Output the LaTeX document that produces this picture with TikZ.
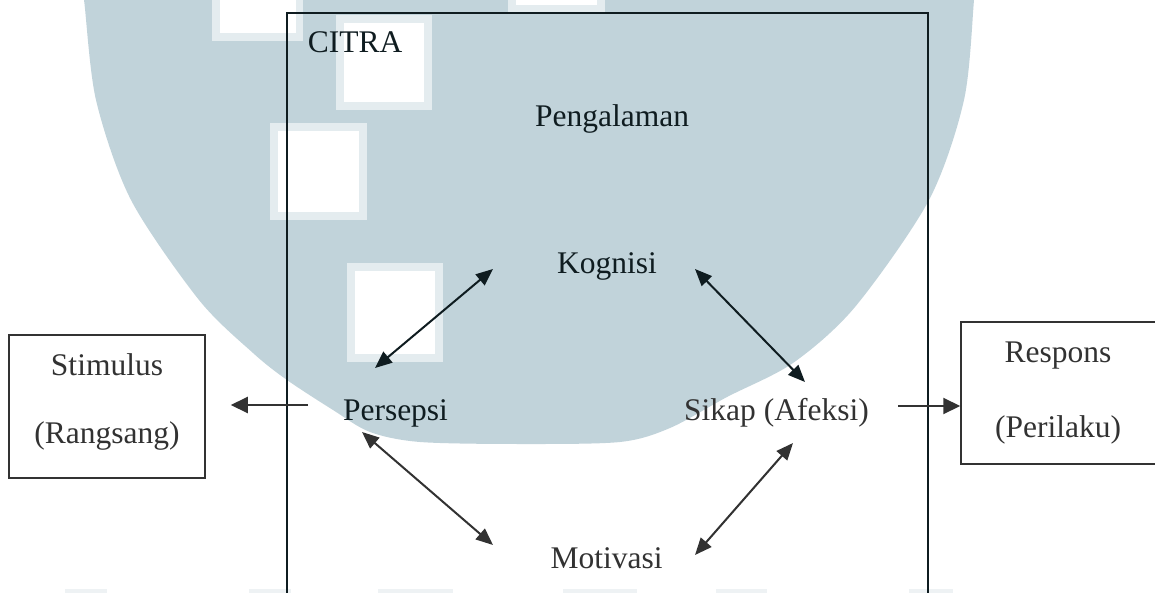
\documentclass[tikz,border=0pt]{standalone}
\usepackage{fontspec}
\setmainfont{Liberation Serif}
\usetikzlibrary{arrows.meta,calc}
\definecolor{wm}{RGB}{193,211,218}
\definecolor{wmlight}{RGB}{228,236,239}
\definecolor{wmfaint}{RGB}{238,242,244}
\definecolor{ink}{RGB}{50,50,50}
\definecolor{inkdark}{RGB}{15,28,32}
\begin{document}
\begin{tikzpicture}[x=1pt,y=-1pt,
  lbl/.style={anchor=base, inner sep=0pt, text=ink, font=\fontsize{31.5}{38}\selectfont},
  dark/.style={text=inkdark},
  frame/.style={draw=ink, line width=1.5pt},
  dbl/.style={{Triangle[length=17pt,width=14pt]}-{Triangle[length=17pt,width=14pt]}, line width=2pt, draw=ink},
  dbldark/.style={dbl, draw=inkdark},
  sgl/.style={-{Triangle[length=17pt,width=16pt]}, line width=2pt, draw=ink}]
\useasboundingbox (0,0) rectangle (1155,593);
\clip (0,0) rectangle (1155,593);
% watermark
\fill[wm] plot[smooth] coordinates {(80,-10) (84,0) (96,100) (131,200) (199,300) (253,353) (287,380) (333,410) (370,432) (420,442) (520,444) (620,442) (670,428) (727,397) (793,363) (855,307) (929,200) (964,100) (974,0) (975,-10)} -- cycle;
\fill[wmlight] (212,-56) rectangle (303,41);   \fill[white] (220,-46) rectangle (296,33);
\fill[wmlight] (508,-84) rectangle (605,13);   \fill[white] (516,-74) rectangle (597,5);
\fill[wmlight] (336,15) rectangle (432,110);   \fill[white] (344,23) rectangle (424,102);
\fill[wmlight] (270,123) rectangle (367,220);  \fill[white] (278,131) rectangle (359,212);
\fill[wmlight] (347,263) rectangle (443,362);  \fill[white] (355,271) rectangle (435,354);
\foreach \a/\b in {65/107,249/291,378/453,563/637,716/767,909/953}
  \fill[wmfaint] (\a,589) rectangle (\b,600);
% main frame
\draw[frame, draw=inkdark] (287,610) -- (287,13) -- (928,13) -- (928,610);
% side boxes
\node[frame, minimum width=196pt, minimum height=143pt, inner sep=0pt] (stim) at (107,406.5) {};
\node[lbl] (stimA) at (107,375) {Stimulus};
\node[lbl] (stimB) at (107,443) {(Rangsang)};
\node[frame, minimum width=250pt, minimum height=142pt, inner sep=0pt] (resp) at (1086,393) {};
\node[lbl] (respA) at (1058,362) {Respons};
\node[lbl] (respB) at (1058,437) {(Perilaku)};
% labels
\node[lbl, dark] (citra) at (355,53) {CITRA};
\node[lbl, dark] (peng) at (612,127) {Pengalaman};
\node[lbl, dark] (kog) at (607,273) {Kognisi};
\node[lbl, dark] (per) at (395.5,420) {Persepsi};
\node[lbl] (sik) at (776.5,420) {Sikap (Afeksi)};
\node[lbl] (mot) at (606.5,568) {Motivasi};
% connectors
\draw[dbldark] ($(kog.base)+(-114,-4)$) -- ($(per.base)+(-20.5,-52)$);
\draw[dbldark] ($(kog.base)+(88,-4)$) -- ($(sik.base)+(28.5,-38)$);
\draw[dbl] ($(per.base)+(-33.5,12)$) -- ($(mot.base)+(-113.5,-23)$);
\draw[dbl] ($(sik.base)+(16.5,23)$) -- ($(mot.base)+(88.5,-13)$);
\draw[sgl] ($(per.base)+(-87.5,-15)$) -- ($(stim.east)+(25,-1.5)$);
\draw[sgl] ($(sik.base)+(121.5,-14)$) -- ($(resp.west)+(0,13)$);
\end{tikzpicture}
\end{document}
